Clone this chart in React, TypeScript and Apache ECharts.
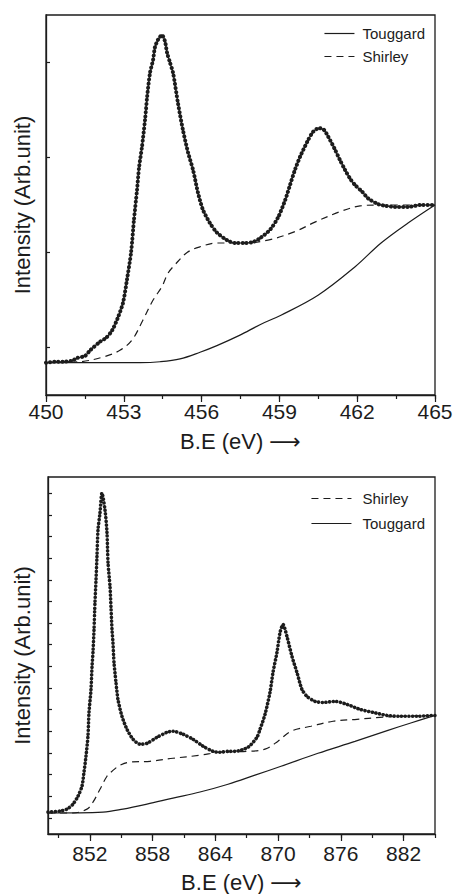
import React, { useEffect, useRef } from 'react';
import * as echarts from 'echarts';

// ---------- tick values ----------
const TOP_X_TICKS = [450, 451.5, 453, 454.5, 456, 457.5, 459, 460.5, 462, 463.5, 465];
const TOP_X_LABELS = [450, 453, 456, 459, 462, 465];
const TOP_Y_TICKS = [1, 2, 3, 4];
const BOT_X_TICKS = [849, 852, 855, 858, 861, 864, 867, 870, 873, 876, 879, 882, 885];
const BOT_X_LABELS = [852, 858, 864, 870, 876, 882];
const BOT_Y_TICKS = [0, 1, 2, 3, 4, 5, 6, 7, 8, 9, 10, 11, 12, 13, 14, 15];

// ---------- upper panel (450–465 eV) ----------
const topMeasured: [number, number][] = [
  [450.0, 0.84], [450.35, 0.85], [450.66, 0.85], [451.0, 0.86], [451.2, 0.89], [451.5, 0.91],
  [451.7, 0.97], [452.08, 1.06], [452.31, 1.1], [452.55, 1.18], [452.78, 1.32], [452.97, 1.47],
  [453.12, 1.71], [453.28, 2.0], [453.39, 2.34], [453.51, 2.66], [453.59, 2.9], [453.7, 3.11],
  [453.82, 3.4], [453.9, 3.64], [454.01, 3.89], [454.13, 4.03], [454.2, 4.16], [454.32, 4.24],
  [454.47, 4.29], [454.59, 4.22], [454.67, 4.1], [454.78, 4.0], [454.9, 3.89], [455.09, 3.57],
  [455.28, 3.29], [455.48, 3.05], [455.67, 2.87], [455.86, 2.63], [456.05, 2.45], [456.32, 2.31],
  [456.59, 2.21], [456.98, 2.13], [457.29, 2.1], [457.67, 2.1], [457.98, 2.11], [458.25, 2.15],
  [458.64, 2.24], [458.95, 2.37], [459.22, 2.55], [459.41, 2.71], [459.6, 2.87], [459.8, 3.01],
  [460.1, 3.18], [460.3, 3.27], [460.53, 3.31], [460.72, 3.29], [460.88, 3.22], [461.15, 3.08],
  [461.34, 2.97], [461.53, 2.87], [461.72, 2.78], [461.92, 2.71], [462.19, 2.64], [462.42, 2.57],
  [462.8, 2.51], [463.11, 2.49], [463.46, 2.48], [463.96, 2.48], [464.46, 2.5], [465.0, 2.5],
];
const topTouggard: [number, number][] = [
  [450.0, 0.84], [452.0, 0.84], [453.63, 0.84], [454.4, 0.85], [455.17, 0.88], [455.94, 0.95],
  [456.59, 1.02], [457.48, 1.13], [458.25, 1.24], [459.06, 1.34], [460.49, 1.55], [461.92, 1.85],
  [462.92, 2.1], [463.96, 2.31], [465.0, 2.5],
];
const topShirley: [number, number][] = [
  [450.0, 0.84], [451.31, 0.85], [452.2, 0.9], [452.85, 0.97], [453.32, 1.08], [453.74, 1.29],
  [454.13, 1.5], [454.47, 1.64], [454.7, 1.78], [454.97, 1.87], [455.44, 2.0], [455.94, 2.06],
  [456.59, 2.1], [457.48, 2.1], [458.56, 2.13], [459.6, 2.22], [460.37, 2.32], [461.34, 2.43],
  [462.11, 2.49], [462.88, 2.5], [465.0, 2.5],
];

// ---------- lower panel (848–885 eV) ----------
const botMeasured: [number, number][] = [
  [848.0, 0.26], [849.15, 0.31], [849.82, 0.4], [850.39, 0.63], [850.87, 1.0], [851.25, 1.46],
  [851.44, 2.11], [851.63, 2.84], [851.82, 3.77], [851.92, 4.87], [852.11, 5.93], [852.21, 6.99],
  [852.3, 7.64], [852.4, 8.7], [852.49, 9.94], [852.59, 11.0], [852.68, 12.06], [852.78, 13.31],
  [852.97, 14.09], [853.16, 15.01], [853.45, 14.23], [853.64, 13.17], [853.74, 11.78], [853.93, 10.68],
  [854.02, 9.76], [854.12, 8.7], [854.21, 8.1], [854.31, 7.18], [854.5, 6.25], [854.69, 5.47],
  [855.07, 4.69], [855.55, 4.09], [856.13, 3.63], [856.8, 3.4], [857.46, 3.44], [858.42, 3.72],
  [859.38, 3.95], [859.95, 4.0], [860.91, 3.86], [861.86, 3.63], [862.82, 3.31], [863.77, 3.07],
  [864.44, 3.03], [865.21, 3.07], [865.88, 3.07], [867.12, 3.26], [867.98, 3.72], [868.27, 4.09],
  [868.75, 4.78], [869.22, 5.79], [869.51, 6.72], [869.89, 7.64], [870.18, 8.56], [870.47, 8.93],
  [870.85, 8.37], [871.33, 7.45], [871.8, 6.72], [872.28, 5.93], [872.76, 5.61], [873.53, 5.38],
  [874.29, 5.33], [875.44, 5.38], [876.59, 5.24], [877.83, 5.01], [879.07, 4.87], [880.41, 4.73],
  [881.65, 4.69], [883.28, 4.69], [884.81, 4.73], [885.0, 4.73],
];
const botShirley: [number, number][] = [
  [848.0, 0.22], [850.39, 0.22], [851.73, 0.4], [852.3, 0.72], [852.97, 1.32], [853.64, 1.92],
  [854.12, 2.15], [854.88, 2.43], [855.84, 2.57], [857.75, 2.61], [859.95, 2.75], [862.53, 2.89],
  [864.44, 3.03], [867.12, 3.07], [868.75, 3.17], [869.99, 3.54], [871.23, 4.0], [873.14, 4.23],
  [875.25, 4.46], [877.54, 4.55], [879.74, 4.64], [881.65, 4.69], [885.0, 4.73],
];
const botTouggard: [number, number][] = [
  [848.0, 0.22], [853.26, 0.26], [855.17, 0.4], [857.46, 0.63], [859.95, 0.91], [862.53, 1.19],
  [865.21, 1.55], [867.79, 1.97], [870.28, 2.38], [873.81, 2.98], [877.35, 3.53], [880.5, 4.04],
  [882.61, 4.37], [885.0, 4.73],
];

const INK = '#1c1c1c';
const FONT = "'Liberation Sans', Arial, Helvetica, sans-serif";

function xAxes(grid: number, min: number, max: number, labels: number[], ticks: number[], nameGap: number, margin: number) {
  return [
    {
      gridIndex: grid, type: 'value', min, max, position: 'bottom',
      axisLine: { show: true, onZero: false, lineStyle: { color: INK, width: 1.3 } },
      axisTick: { show: true, inside: false, length: 7, customValues: labels, lineStyle: { color: INK, width: 1.2 } },
      axisLabel: { show: true, customValues: labels, margin, fontSize: 21, color: INK, fontFamily: FONT },
      splitLine: { show: false },
      name: 'B.E (eV) {arr|⟶}', nameLocation: 'middle', nameGap,
      nameTextStyle: {
        fontSize: 22, color: INK, fontFamily: FONT,
        rich: { arr: { fontSize: 22, color: INK, fontFamily: "'DejaVu Sans', sans-serif" } },
      },
    },
    {
      gridIndex: grid, type: 'value', min, max, position: 'bottom',
      axisLine: { show: false, onZero: false },
      axisTick: { show: true, inside: false, length: 4, customValues: ticks, lineStyle: { color: INK, width: 1.2 } },
      axisLabel: { show: false },
      splitLine: { show: false },
    },
  ];
}

function yAxis(grid: number, min: number, max: number, ticks: number[], nameGap: number) {
  return {
    gridIndex: grid, type: 'value', min, max, position: 'left',
    axisLine: { show: true, onZero: false, lineStyle: { color: INK, width: 1.3 } },
    axisTick: { show: true, inside: true, length: 4, customValues: ticks, lineStyle: { color: INK, width: 1.2 } },
    axisLabel: { show: false },
    splitLine: { show: false },
    name: 'Intensity (Arb.unit)', nameLocation: 'middle', nameGap,
    nameTextStyle: { fontSize: 22, color: INK, fontFamily: FONT },
  };
}

function plainLine(name: string, data: [number, number][], xi: number, yi: number, dashed: boolean) {
  return {
    name, type: 'line', data, xAxisIndex: xi, yAxisIndex: yi,
    symbol: 'none', smooth: 0.35,
    lineStyle: { color: INK, width: 1.2, type: dashed ? [7, 5] : 'solid' },
    itemStyle: { color: INK },
    z: 3,
  };
}

function dotted(name: string, data: [number, number][], xi: number, yi: number, width: number, gap: number) {
  return {
    name, type: 'line', data, xAxisIndex: xi, yAxisIndex: yi,
    symbol: 'none', smooth: 0.25,
    lineStyle: { color: INK, width, type: [0.1, gap], cap: 'round', join: 'round' },
    z: 4,
  };
}

export default function App() {
  const ref = useRef<HTMLDivElement>(null);
  useEffect(() => {
    if (!ref.current) return;
    const chart = echarts.init(ref.current, undefined, { renderer: 'svg' });
    const legendCommon = {
      orient: 'vertical', align: 'left', itemHeight: 14,
      textStyle: { fontSize: 15, color: INK, fontFamily: FONT },
      itemStyle: { opacity: 0 },
      lineStyle: { width: 1.2 },
      selectedMode: false,
    };
    chart.setOption({
      animation: false,
      backgroundColor: '#ffffff',
      textStyle: { fontFamily: FONT },
      grid: [
        { left: 46, top: 15, width: 389, height: 380, show: true, borderColor: INK, borderWidth: 1.3, backgroundColor: 'transparent' },
        { left: 48, top: 477, width: 387, height: 358, show: true, borderColor: INK, borderWidth: 1.3, backgroundColor: 'transparent' },
      ],
      legend: [
        { ...legendCommon, data: ['Touggard', 'Shirley'], right: 26, top: 21, itemWidth: 30, itemGap: 8,
          textStyle: { ...legendCommon.textStyle, padding: [0, 0, 0, 3] } },
        { ...legendCommon, data: ['Shirley', 'Touggard'], right: 26, top: 486, itemWidth: 40, itemGap: 10,
          textStyle: { ...legendCommon.textStyle, padding: [0, 0, 0, 6] } },
      ],
      xAxis: [
        ...xAxes(0, 450, 465, TOP_X_LABELS, TOP_X_TICKS, 35, 6),
        ...xAxes(1, 848, 885, BOT_X_LABELS, BOT_X_TICKS, 37, 9),
      ],
      yAxis: [
        yAxis(0, 0.5, 4.5, TOP_Y_TICKS, 13),
        yAxis(1, -0.75, 15.75, BOT_Y_TICKS, 15),
      ],
      series: [
        { ...plainLine('measured-top', topMeasured, 0, 0, false), smooth: 0.25, z: 4 },
        dotted('measured-top-dots', topMeasured, 0, 0, 4, 4),
        plainLine('Touggard', topTouggard, 0, 0, false),
        plainLine('Shirley', topShirley, 0, 0, true),
        dotted('measured-bottom', botMeasured, 2, 1, 3.6, 3.6),
        plainLine('Shirley', botShirley, 2, 1, true),
        plainLine('Touggard', botTouggard, 2, 1, false),
      ],
    });
    return () => chart.dispose();
  }, []);
  return (
    <div
      ref={ref}
      style={{ position: 'absolute', left: 0, top: 0, width: 456, height: 894, background: '#fff' }}
    />
  );
}
